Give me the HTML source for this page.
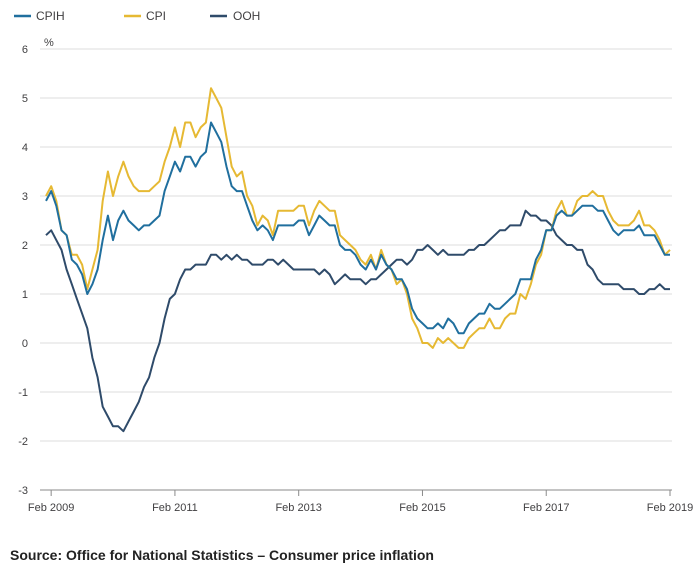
<!DOCTYPE html>
<html><head><meta charset="utf-8"><style>
body{margin:0;background:#fff;width:700px;height:570px;overflow:hidden;font-family:"Liberation Sans",sans-serif;}
svg text{font-family:"Liberation Sans",sans-serif;}
</style></head><body>
<svg id="chart" width="700" height="570">
<g id="legend">
 <g><line x1="14" y1="16" x2="31" y2="16" stroke="#206f9e" stroke-width="2.5"/><text x="36" y="20" font-size="12" fill="#414042">CPIH</text></g>
 <g><line x1="124" y1="16" x2="141" y2="16" stroke="#e6b933" stroke-width="2.5"/><text x="146" y="20" font-size="12" fill="#414042">CPI</text></g>
 <g><line x1="210" y1="16" x2="227" y2="16" stroke="#2f4b6a" stroke-width="2.5"/><text x="233" y="20" font-size="12" fill="#414042">OOH</text></g>
</g>
<text x="44" y="46" font-size="11" fill="#414042">%</text>
<g id="grid"></g><g id="series"></g><g id="xaxis"></g>
<text x="10" y="560" font-size="14" font-weight="bold" fill="#222">Source: Office for National Statistics – Consumer price inflation</text>
</svg>
<script>
const yTicks=[-3,-2,-1,0,1,2,3,4,5,6];
const xTickLabels=["Feb 2009","Feb 2011","Feb 2013","Feb 2015","Feb 2017","Feb 2019"];
const xTickIndex=[1,25,49,73,97,121];
const cpih=[2.9,3.1,2.8,2.3,2.2,1.7,1.6,1.4,1.0,1.2,1.5,2.1,2.6,2.1,2.5,2.7,2.5,2.4,2.3,2.4,2.4,2.5,2.6,3.1,3.4,3.7,3.5,3.8,3.8,3.6,3.8,3.9,
4.5,4.3,4.1,3.6,3.2,3.1,3.1,2.8,2.5,2.3,2.4,2.3,2.1,2.4,2.4,2.4,2.4,2.5,2.5,2.2,2.4,2.6,2.5,2.4,2.4,2.0,1.9,1.9,1.8,1.6,1.5,
1.7,1.5,1.8,1.6,1.5,1.3,1.3,1.1,0.7,0.5,0.4,0.3,0.3,0.4,0.3,0.5,0.4,0.2,0.2,0.4,0.5,0.6,0.6,0.8,0.7,0.7,0.8,0.9,1.0,1.3,1.3,
1.3,1.7,1.9,2.3,2.3,2.6,2.7,2.6,2.6,2.7,2.8,2.8,2.8,2.7,2.7,2.5,2.3,2.2,2.3,2.3,2.3,2.4,2.2,2.2,2.2,2.0,1.8,1.8];
const cpi=[3.0,3.2,2.9,2.3,2.2,1.8,1.8,1.6,1.1,1.5,1.9,2.9,
3.5,3.0,3.4,3.7,3.4,3.2,3.1,3.1,3.1,3.2,3.3,3.7,
4.0,4.4,4.0,4.5,4.5,4.2,4.4,4.5,5.2,5.0,4.8,4.2,
3.6,3.4,3.5,3.0,2.8,2.4,2.6,2.5,2.2,2.7,2.7,2.7,
2.7,2.8,2.8,2.4,2.7,2.9,2.8,2.7,2.7,2.2,2.1,2.0,
1.9,1.7,1.6,1.8,1.5,1.9,1.6,1.5,1.2,1.3,1.0,0.5,
0.3,0.0,0.0,-0.1,0.1,0.0,0.1,0.0,-0.1,-0.1,0.1,0.2,
0.3,0.3,0.5,0.3,0.3,0.5,0.6,0.6,1.0,0.9,1.2,1.6,
1.8,2.3,2.3,2.7,2.9,2.6,2.6,2.9,3.0,3.0,3.1,3.0,
3.0,2.7,2.5,2.4,2.4,2.4,2.5,2.7,2.4,2.4,2.3,2.1,
1.8,1.9];
const ooh=[2.2,2.3,2.1,1.9,1.5,1.2,0.9,0.6,0.3,-0.3,-0.7,-1.3,-1.5,-1.7,-1.7,-1.8,-1.6,-1.4,-1.2,-0.9,-0.7,-0.3,0.0,0.5,0.9,1.0,1.3,1.5,1.5,1.6,1.6,1.6,
1.8,1.8,1.7,1.8,1.7,1.8,1.7,1.7,1.6,1.6,1.6,1.7,1.7,1.6,1.7,1.6,1.5,1.5,1.5,1.5,1.5,1.4,1.5,1.4,1.2,1.3,1.4,1.3,1.3,
1.3,1.2,1.3,1.3,1.4,1.5,1.6,1.7,1.7,1.6,1.7,1.9,1.9,2.0,1.9,1.8,1.9,1.8,1.8,1.8,1.8,1.9,1.9,2.0,2.0,2.1,2.2,2.3,2.3,2.4,2.4,2.4,2.7,
2.6,2.6,2.5,2.5,2.4,2.2,2.1,2.0,2.0,1.9,1.9,1.6,1.5,1.3,1.2,1.2,1.2,1.2,1.1,1.1,1.1,1.0,1.0,1.1,1.1,1.2,1.1,1.1];

const NS="http://www.w3.org/2000/svg";
const x=i=>46+i*(624/121);
const y=v=>343-v*49;
const grid=document.getElementById('grid');
yTicks.forEach(t=>{
  const l=document.createElementNS(NS,'line');
  l.setAttribute('x1',40);l.setAttribute('x2',672);l.setAttribute('y1',y(t));l.setAttribute('y2',y(t));
  l.setAttribute('stroke',t===-3?'#8a8a8a':'#dcdcdc');l.setAttribute('stroke-width',1);
  
  
  grid.appendChild(l);
  const tx=document.createElementNS(NS,'text');
  tx.setAttribute('x',28);tx.setAttribute('y',y(t)+4);tx.setAttribute('text-anchor','end');
  tx.setAttribute('font-size','11');tx.setAttribute('fill','#414042');
  tx.textContent=t;
  
  
  grid.appendChild(tx);
});
const xa=document.getElementById('xaxis');
xTickLabels.forEach((lab,k)=>{
  const px=x(xTickIndex[k]);
  const l=document.createElementNS(NS,'line');
  l.setAttribute('x1',px);l.setAttribute('x2',px);l.setAttribute('y1',490);l.setAttribute('y2',496);
  l.setAttribute('stroke','#8a8a8a');
  
  
  xa.appendChild(l);
  const tx=document.createElementNS(NS,'text');
  tx.setAttribute('x',px);tx.setAttribute('y',511);tx.setAttribute('text-anchor','middle');
  tx.setAttribute('font-size','11');tx.setAttribute('fill','#414042');
  tx.textContent=lab;
  
  
  xa.appendChild(tx);
});
const ser=document.getElementById('series');
[[ooh,'#2f4b6a','ooh-line'],[cpi,'#e6b933','cpi-line'],[cpih,'#206f9e','cpih-line']].forEach(([d,c,n])=>{
  const p=document.createElementNS(NS,'polyline');
  p.setAttribute('points',d.map((v,i)=>x(i).toFixed(1)+','+y(v).toFixed(1)).join(' '));
  p.setAttribute('fill','none');p.setAttribute('stroke',c);p.setAttribute('stroke-width',2);
  p.setAttribute('stroke-linejoin','round');
  
  
  ser.appendChild(p);
});
</script>
</body></html>
